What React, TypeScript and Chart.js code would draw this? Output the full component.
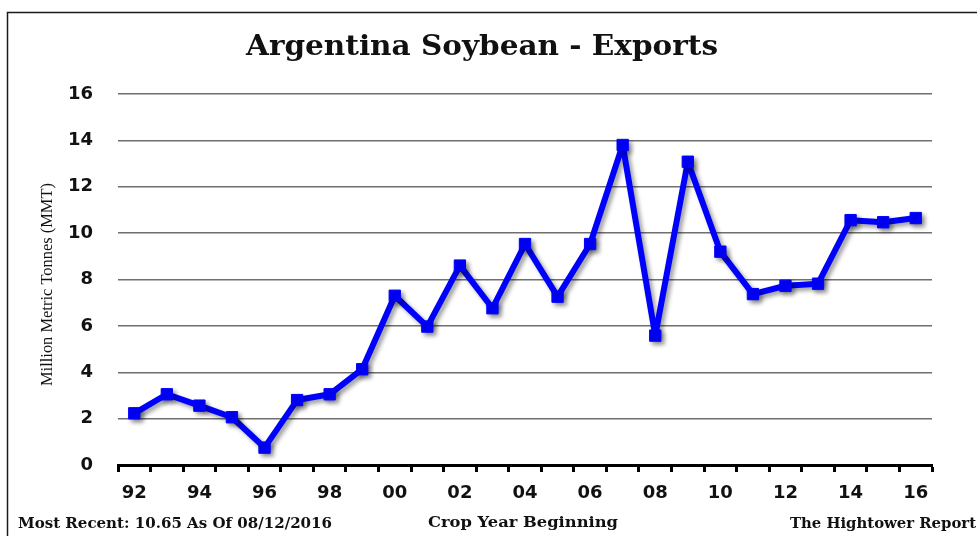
import React, { useEffect, useRef } from "react";
import { Chart, registerables } from "chart.js";

Chart.register(...registerables);

// Crop years (two-digit) and Argentina soybean exports, million metric tonnes
const cropYears = [
  "92", "93", "94", "95", "96", "97", "98", "99", "00", "01", "02", "03", "04",
  "05", "06", "07", "08", "09", "10", "11", "12", "13", "14", "15", "16",
];
const exportsMMT = [
  2.23, 3.05, 2.56, 2.06, 0.75, 2.8, 3.05, 4.13, 7.3, 5.97, 8.6, 6.76, 9.53,
  7.26, 9.53, 13.8, 5.58, 13.08, 9.2, 7.37, 7.73, 7.82, 10.56, 10.47, 10.65,
];
const yMin = 0;
const yMax = 16;
const yStep = 2;

const chartTitle = "Argentina Soybean - Exports";
const yAxisTitle = "Million Metric Tonnes (MMT)";
const footerLeft = "Most Recent: 10.65 As Of 08/12/2016";
const footerCenter = "Crop Year Beginning";
const footerRight = "The Hightower Report";

const W = 977;
const H = 536;

// Draws text so that it spans exactly `width` pixels from `x`.
function fitText(
  ctx: CanvasRenderingContext2D,
  text: string,
  x: number,
  y: number,
  width: number,
  font: string
) {
  ctx.save();
  ctx.font = font;
  ctx.textAlign = "left";
  ctx.textBaseline = "alphabetic";
  const natural = ctx.measureText(text).width;
  ctx.translate(x, y);
  ctx.scale(width / natural, 1);
  ctx.fillText(text, 0, 0);
  ctx.restore();
}

const decorPlugin = {
  id: "decor",
  beforeDraw(chart: any) {
    const ctx: CanvasRenderingContext2D = chart.ctx;
    ctx.save();
    ctx.fillStyle = "#ffffff";
    ctx.fillRect(0, 0, W, H);
    ctx.strokeStyle = "#1a1a1a";
    ctx.lineWidth = 1.5;
    ctx.strokeRect(7.5, 12.5, W + 20, H + 20);
    ctx.restore();
  },
  beforeDatasetsDraw(chart: any) {
    const ctx: CanvasRenderingContext2D = chart.ctx;
    ctx.save();
    ctx.shadowColor = "rgba(0, 0, 0, 0.38)";
    ctx.shadowBlur = 4;
    ctx.shadowOffsetX = 3;
    ctx.shadowOffsetY = 3;
  },
  afterDatasetsDraw(chart: any) {
    chart.ctx.restore();
  },
  afterDraw(chart: any) {
    const ctx: CanvasRenderingContext2D = chart.ctx;
    ctx.save();
    ctx.fillStyle = "#111111";
    fitText(ctx, chartTitle, 246, 55, 472, "bold 27px 'DejaVu Serif'");
    fitText(ctx, footerLeft, 18, 528, 314, "bold 14px 'DejaVu Serif'");
    fitText(ctx, footerCenter, 428, 527, 190, "bold 15px 'DejaVu Serif'");
    fitText(ctx, footerRight, 790, 528, 186, "bold 14px 'DejaVu Serif'");

    // rotated y-axis title
    ctx.save();
    ctx.translate(52, 386);
    ctx.rotate(-Math.PI / 2);
    fitText(ctx, yAxisTitle, 0, 0, 203, "17px 'Liberation Serif'");
    ctx.restore();
    ctx.restore();
  },
};

export default function App() {
  const canvasRef = useRef<HTMLCanvasElement | null>(null);

  useEffect(() => {
    const canvas = canvasRef.current;
    if (!canvas) return;
    const chart = new Chart(canvas, {
      type: "line",
      data: {
        labels: cropYears,
        datasets: [
          {
            data: exportsMMT,
            borderColor: "#0000ff",
            backgroundColor: "#0000ff",
            borderWidth: 6,
            borderJoinStyle: "round",
            borderCapStyle: "round",
            pointStyle: "rect",
            pointRadius: 8,
            pointBorderWidth: 1,
            pointBorderColor: "#0000ff",
            pointBackgroundColor: "#0000ff",
            tension: 0,
            fill: false,
            clip: false,
          },
        ],
      },
      options: {
        animation: false,
        responsive: false,
        devicePixelRatio: 1,
        layout: {
          padding: { left: 0, top: 94, right: 45, bottom: 31 },
        },
        plugins: {
          legend: { display: false },
          title: { display: false },
          tooltip: { enabled: false },
        },
        scales: {
          x: {
            type: "category",
            offset: true,
            grid: {
              offset: true,
              drawOnChartArea: false,
              drawTicks: true,
              tickLength: 7,
              tickWidth: 3,
              tickColor: "#000000",
            },
            border: { display: true, color: "#000000", width: 3 },
            ticks: {
              autoSkip: false,
              maxRotation: 0,
              padding: 11,
              color: "#111111",
              font: { family: "'DejaVu Sans'", size: 18, weight: "bold" },
              callback: (_v: any, i: number) => (i % 2 === 0 ? cropYears[i] : ""),
            },
            afterFit: (scale: any) => {
              scale.height = 40;
            },
          },
          y: {
            min: yMin,
            max: yMax,
            grid: {
              drawTicks: false,
              lineWidth: 1.5,
              color: (c: any) =>
                c.tick && c.tick.value === 0 ? "rgba(0,0,0,0)" : "#6f6f6f",
            },
            border: { display: false },
            ticks: {
              stepSize: yStep,
              padding: 25,
              color: "#111111",
              font: { family: "'DejaVu Sans'", size: 18, weight: "bold" },
            },
            afterFit: (scale: any) => {
              scale.width = 118;
            },
          },
        },
      },
      plugins: [decorPlugin],
    });
    return () => chart.destroy();
  }, []);

  return (
    <div
      style={{
        position: "absolute",
        left: 0,
        top: 0,
        width: W,
        height: H,
        background: "#ffffff",
      }}
    >
      <canvas ref={canvasRef} width={W} height={H} style={{ display: "block" }} />
    </div>
  );
}
